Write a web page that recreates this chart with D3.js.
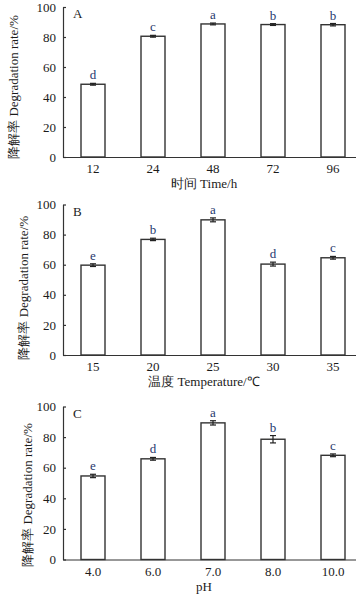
<!DOCTYPE html>
<html><head><meta charset="utf-8">
<script src="https://cdn.jsdelivr.net/npm/d3@7"></script>
<style>
html,body{margin:0;padding:0;background:#fff;}
svg{display:block;}
text{font-family:"Liberation Serif","Times New Roman",serif;}
</style></head>
<body>
<div id="chart"></div>
<script>
// Panel A: Time
const timeCats = ["12","24","48","72","96"];
const timeVals = [48.5, 80.5, 88.7, 88.3, 88.2];
const timeErr = [0.6, 0.6, 0.6, 0.6, 0.8];
const timeLetters = ["d","c","a","b","b"];
// Panel B: Temperature
const tempCats = ["15","20","25","30","35"];
const tempVals = [59.7, 76.8, 89.8, 60.4, 64.6];
const tempErr = [0.9, 0.8, 1.3, 1.3, 0.9];
const tempLetters = ["e","b","a","d","c"];
// Panel C: pH
const phCats = ["4.0","6.0","7.0","8.0","10.0"];
const phVals = [54.6, 65.8, 89.3, 78.6, 68.1];
const phErr = [1.1, 0.9, 1.4, 2.4, 0.9];
const phLetters = ["e","d","a","b","c"];
const yTicks = [0, 20, 40, 60, 80, 100];

const panels = [
  {label:"A", cats:timeCats, vals:timeVals, err:timeErr, letters:timeLetters, xTitle:"时间 Time/h", top:7, bottom:157, ytx:18, yoff:5},
  {label:"B", cats:tempCats, vals:tempVals, err:tempErr, letters:tempLetters, xTitle:"温度 Temperature/℃", top:204.5, bottom:355, ytx:28, yoff:8},
  {label:"C", cats:phCats, vals:phVals, err:phErr, letters:phLetters, xTitle:"pH", top:406.5, bottom:559.5, ytx:32, yoff:12}
];

const W = 356, H = 597;
const svg = d3.select("#chart").append("svg").attr("width", W).attr("height", H);
const axisColor = "#333";
const textColor = "#1b1b1b";
const letterColor = "#26386e";
const x0 = 63;

panels.forEach(p => {
  const g = svg.append("g");
  const x = d3.scaleBand().domain(p.cats).range([x0, 363]).paddingInner(0.6).paddingOuter(0.3);
  const y = d3.scaleLinear().domain([0, 100]).range([p.bottom, p.top]);

  // bars
  g.selectAll("rect.bar").data(p.vals).join("rect")
    .attr("x", (d,i) => x(p.cats[i]))
    .attr("y", d => y(d))
    .attr("width", x.bandwidth())
    .attr("height", d => y(0) - y(d))
    .attr("fill", "#fff").attr("stroke", axisColor).attr("stroke-width", 1.4);

  // error bars
  p.vals.forEach((v,i) => {
    const cx = x(p.cats[i]) + x.bandwidth()/2;
    const e = p.err[i];
    g.append("line").attr("x1", cx).attr("x2", cx).attr("y1", y(v+e)).attr("y2", y(v-e))
      .attr("stroke", "#222").attr("stroke-width", 1.2);
    [v+e, v-e].forEach(t => {
      g.append("line").attr("x1", cx-3).attr("x2", cx+3).attr("y1", y(t)).attr("y2", y(t))
        .attr("stroke", "#222").attr("stroke-width", 1.2);
    });
    g.append("text").attr("x", cx).attr("y", y(v+e) - 4)
      .attr("text-anchor", "middle").attr("font-size", 13).attr("fill", letterColor)
      .text(p.letters[i]);
  });

  // y axis
  const ya = g.append("g").attr("transform", `translate(${x0},0)`)
    .call(d3.axisLeft(y).tickValues(yTicks).tickSize(-3).tickSizeOuter(0).tickPadding(7));
  ya.select(".domain").attr("stroke", axisColor).attr("stroke-width", 1.2);
  ya.selectAll(".tick line").attr("stroke", axisColor).attr("stroke-width", 1.2);
  ya.selectAll(".tick text").attr("font-size", 13).attr("fill", textColor);

  // x axis
  const xa = g.append("g").attr("transform", `translate(0,${p.bottom})`)
    .call(d3.axisBottom(x).tickSize(0).tickPadding(7));
  xa.select(".domain").attr("stroke", axisColor).attr("stroke-width", 1.2);
  xa.selectAll(".tick text").attr("font-size", 13).attr("fill", textColor);

  // panel label
  g.append("text").attr("x", 73).attr("y", p.top + 11)
    .attr("font-size", 13).attr("fill", textColor).text(p.label);

  // x title
  g.append("text").attr("x", 204).attr("y", p.bottom + 31)
    .attr("text-anchor", "middle").attr("font-size", 13).attr("fill", textColor)
    .text(p.xTitle);

  // y title
  const cy = (p.top + p.bottom) / 2 + p.yoff;
  g.append("text").attr("transform", `translate(${p.ytx},${cy}) rotate(-90)`)
    .attr("text-anchor", "middle").attr("font-size", 13).attr("fill", textColor)
    .text("降解率 Degradation rate/%");
});
</script>
</body></html>
